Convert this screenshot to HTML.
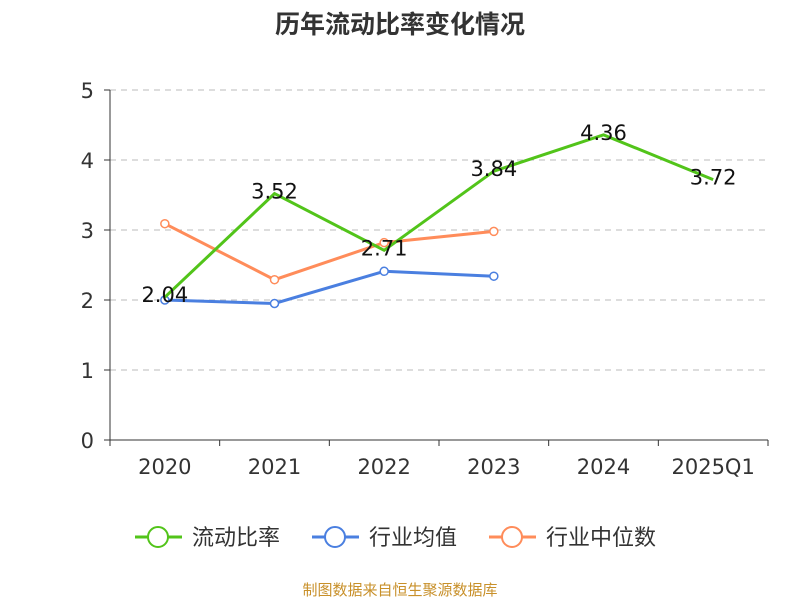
<!DOCTYPE html>
<html><head><meta charset="utf-8"><style>
body{margin:0;background:#fff;font-family:"Liberation Sans","Noto Sans CJK SC",sans-serif}
</style></head><body>
<svg width="800" height="600" xmlns="http://www.w3.org/2000/svg" font-family="DejaVu Sans, Noto Sans CJK SC, sans-serif">
<text x="400" y="33" text-anchor="middle" font-size="25" font-weight="bold" fill="#333">历年流动比率变化情况</text>
<g id="grid"></g><g id="axes"></g><g id="series"></g>
<g font-size="22" fill="#333">
<g><line x1="135" y1="537" x2="182" y2="537" stroke="#52c41a" stroke-width="3"/><circle cx="158" cy="537" r="10" fill="#fff" stroke="#52c41a" stroke-width="2"/><text x="192" y="545">流动比率</text></g>
<g><line x1="312" y1="537" x2="359" y2="537" stroke="#4a7fe0" stroke-width="3"/><circle cx="335" cy="537" r="10" fill="#fff" stroke="#4a7fe0" stroke-width="2"/><text x="369" y="545">行业均值</text></g>
<g><line x1="489" y1="537" x2="536" y2="537" stroke="#ff8c5a" stroke-width="3"/><circle cx="512" cy="537" r="10" fill="#fff" stroke="#ff8c5a" stroke-width="2"/><text x="546" y="545">行业中位数</text></g>
</g>
<text x="400" y="595" text-anchor="middle" font-size="15" fill="#c8902a">制图数据来自恒生聚源数据库</text>
</svg>
<script>
const categories=["2020","2021","2022","2023","2024","2025Q1"];
const yTicks=[0,1,2,3,4,5];
const currentRatio=[2.04,3.52,2.71,3.84,4.36,3.72];
const industryMean=[2.0,1.95,2.41,2.34,null,null];
const industryMedian=[3.09,2.29,2.82,2.98,null,null];
const NS="http://www.w3.org/2000/svg";
const x0=110,x1=768,y0=440,y1=90;
const band=(x1-x0)/categories.length;
const xs=i=>x0+band*(i+0.5);
const ys=v=>y0-(v/5)*(y0-y1);
function mk(t,a,p){const e=document.createElementNS(NS,t);for(const k in a)e.setAttribute(k,a[k]);p.appendChild(e);return e;}
const grid=document.getElementById('grid'),axes=document.getElementById('axes'),ser=document.getElementById('series');
yTicks.forEach(v=>{
 if(v>0){const g=mk('line',{x1:x0,x2:x1,y1:ys(v),y2:ys(v),stroke:'#bbb','stroke-dasharray':'6,5'},grid);
 }
 const t=mk('text',{x:x0-16,y:ys(v)+8,'text-anchor':'end','font-size':21,fill:'#333'},axes);t.textContent=v;
 
 mk('line',{x1:x0-6,x2:x0,y1:ys(v),y2:ys(v),stroke:'#333'},axes);
});
const ya=mk('line',{x1:x0,x2:x0,y1:y1,y2:y0,stroke:'#333'},axes);

const xa=mk('line',{x1:x0,x2:x1,y1:y0,y2:y0,stroke:'#333'},axes);

for(let i=0;i<=categories.length;i++)mk('line',{x1:x0+band*i,x2:x0+band*i,y1:y0,y2:y0+6,stroke:'#333'},axes);
categories.forEach((c,i)=>{const t=mk('text',{x:xs(i),y:y0+34,'text-anchor':'middle','font-size':21,fill:'#333'},axes);t.textContent=c;
 });
function line(data,color,name,markers,labels){
 const pts=data.map((v,i)=>v==null?null:[xs(i),ys(v)]).filter(p=>p);
 const p=mk('polyline',{points:pts.map(p=>p.join(',')).join(' '),fill:'none',stroke:color,'stroke-width':3},ser);
 
 data.forEach((v,i)=>{if(v==null)return;
  if(markers){const c=mk('circle',{cx:xs(i),cy:ys(v),r:4,fill:'#fff',stroke:color,'stroke-width':1.5},ser);
   }
  if(labels){const t=mk('text',{x:xs(i),y:ys(v)+5,'text-anchor':'middle','font-size':21,fill:'#111'},ser);t.textContent=v.toFixed(2);
   }
 });
}
line(industryMean,'#4a7fe0','industry-mean',true,false);
line(industryMedian,'#ff8c5a','industry-median',true,false);
line(currentRatio,'#52c41a','current-ratio',false,true);
</script>
</body></html>
